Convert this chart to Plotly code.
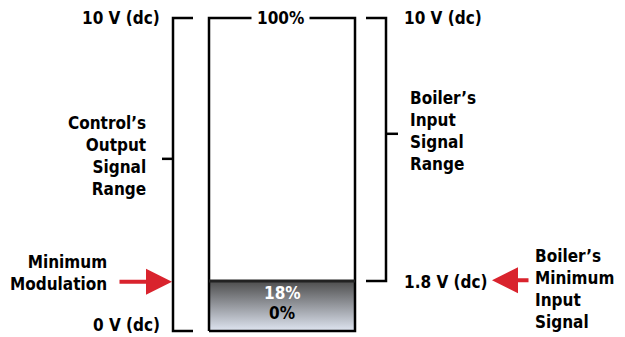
import plotly.graph_objects as go

# Signal levels on a 0-100 % scale (the minimum is drawn at ~16 % of the bar height)
LEVEL_TOP = 100
LEVEL_MIN = 16
LEVEL_ZERO = 0

volt_labels = ["10 V (dc)", "0 V (dc)", "1.8 V (dc)"]
pct_labels = ["100%", "18%", "0%"]
left_caption = ["Control’s", "Output", "Signal", "Range"]
right_caption = ["Boiler’s", "Input", "Signal", "Range"]
min_mod_caption = ["Minimum", "Modulation"]
min_input_caption = ["Boiler’s", "Minimum", "Input", "Signal"]

FONT = "Liberation Sans Narrow, DejaVu Sans Condensed, Arial Narrow, sans-serif"
RED = "#d9232d"
BOX_L, BOX_R = 209, 355

fig = go.Figure()

# shaded minimum-modulation band
fig.add_trace(go.Scatter(
    x=[BOX_L, BOX_R, BOX_R, BOX_L, BOX_L],
    y=[LEVEL_ZERO, LEVEL_ZERO, LEVEL_MIN, LEVEL_MIN, LEVEL_ZERO],
    mode="lines", line=dict(width=0), fill="toself",
    fillgradient=dict(type="vertical", colorscale=[[0, "#dfe5f1"], [1, "#4d4d4d"]]),
    hoverinfo="skip",
))

# bar outline
fig.add_trace(go.Scatter(
    x=[BOX_L, BOX_R, BOX_R, BOX_L, BOX_L],
    y=[LEVEL_ZERO, LEVEL_ZERO, LEVEL_TOP, LEVEL_TOP, LEVEL_ZERO],
    mode="lines", line=dict(color="black", width=2.5), hoverinfo="skip",
))
fig.add_trace(go.Scatter(
    x=[BOX_L, BOX_R], y=[LEVEL_MIN, LEVEL_MIN],
    mode="lines", line=dict(color="#222", width=3), hoverinfo="skip",
))

# left bracket: control output 0-10 V
fig.add_trace(go.Scatter(
    x=[193, 173, 173, 193, None, 173, 162],
    y=[LEVEL_TOP, LEVEL_TOP, LEVEL_ZERO, LEVEL_ZERO, None, 55, 55],
    mode="lines", line=dict(color="black", width=2.5), hoverinfo="skip",
))
# right bracket: boiler input 1.8-10 V
fig.add_trace(go.Scatter(
    x=[366, 386, 386, 366, None, 386, 398],
    y=[LEVEL_TOP, LEVEL_TOP, LEVEL_MIN, LEVEL_MIN, None, 63, 63],
    mode="lines", line=dict(color="black", width=2.5), hoverinfo="skip",
))


def label(text, x, y, xanchor, color="black", **kw):
    fig.add_annotation(
        x=x, y=y, text=text, xanchor=xanchor, yanchor="middle", showarrow=False,
        font=dict(family=FONT, size=17, color=color, weight="bold"),
        align=xanchor if xanchor != "center" else "center",
        **kw,
    )


label(volt_labels[0], 162, LEVEL_TOP, "right")
label(volt_labels[1], 162, 1.8, "right")
label("<br>".join(left_caption), 148, 56, "right")
label("<br>".join(min_mod_caption), 109, 18.5, "right")
label(pct_labels[0], 280, LEVEL_TOP, "center", bgcolor="white", borderpad=5)
label(pct_labels[1], 282, 12.1, "center", color="white")
label(pct_labels[2], 282, 5.8, "center")
label(volt_labels[0], 402, LEVEL_TOP, "left")
label("<br>".join(right_caption), 408, 63.9, "left")
label(volt_labels[2], 402, 15.7, "left")
label("<br>".join(min_input_caption), 533, 13.4, "left")

# red arrows
for tip, tail, lvl in [(172, 118, 15.7), (492, 530, 16.2)]:
    fig.add_annotation(
        x=tip, y=lvl, ax=tail, ay=lvl, axref="x", ayref="y", xref="x", yref="y",
        text="", showarrow=True, arrowhead=2, arrowsize=1.3, arrowwidth=4,
        arrowcolor=RED, standoff=0,
    )

# the page body adds an 8 px offset, so the figure is shrunk and the ranges shifted to match
fig.update_layout(
    width=617, height=329, margin=dict(l=0, r=0, t=0, b=0),
    paper_bgcolor="white", plot_bgcolor="white", showlegend=False,
    xaxis=dict(range=[8, 625], visible=False, fixedrange=True),
    yaxis=dict(range=[-1.92, 103.19], visible=False, fixedrange=True),
)

fig.write_html("out.html")
